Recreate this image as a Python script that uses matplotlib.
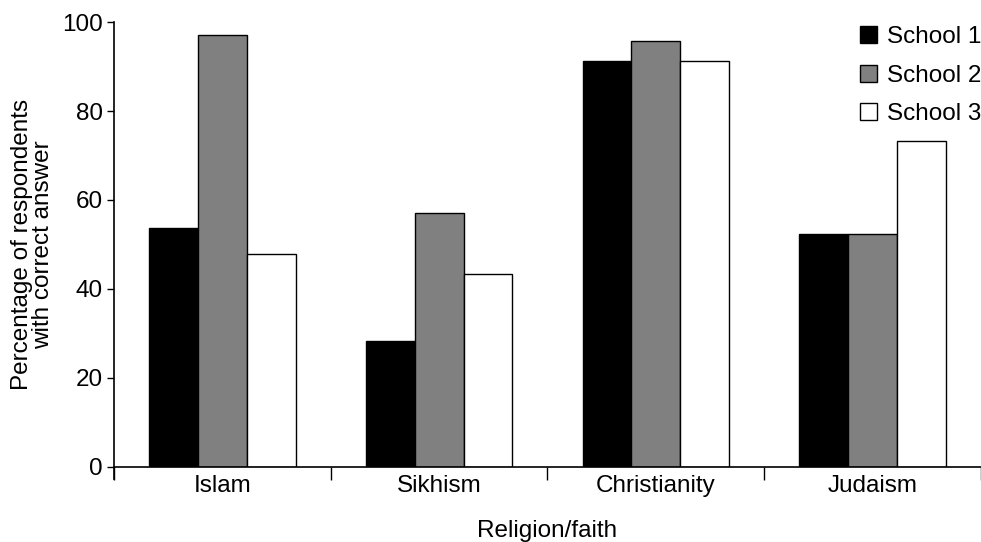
import numpy as np
import matplotlib
matplotlib.use("Agg")
import matplotlib.pyplot as plt

plt.rcParams['font.family'] = ['Liberation Sans Narrow', 'Liberation Sans', 'DejaVu Sans']

religions = ["Islam", "Sikhism", "Christianity", "Judaism"]
school1 = [53.8, 28.4, 91.2, 52.4]
school2 = [97.0, 57.0, 95.7, 52.4]
school3 = [47.8, 43.3, 91.2, 73.2]
series_names = ["School 1", "School 2", "School 3"]
colors = ["black", "#808080", "white"]

fs = 17.5

fig = plt.figure(figsize=(9.81, 5.42), dpi=100)
ax = fig.add_axes([0.1162, 0.1384, 0.8838, 0.821])

x = np.arange(len(religions))
w = 0.225
for i, (vals, name, c) in enumerate(zip([school1, school2, school3], series_names, colors)):
    ax.bar(x + (i - 1) * w, vals, width=w, color=c, edgecolor="black",
           linewidth=1.0, label=name)

ax.set_xlim(-0.5, len(religions) - 0.5)
ax.set_ylim(0, 100)
ax.set_yticks([0, 20, 40, 60, 80, 100])

# category labels centred, ticks on the boundaries
ax.set_xticks(np.arange(len(religions) + 1) - 0.5)
ax.set_xticklabels([])
ax.set_xticks(x, minor=True)
ax.set_xticklabels(religions, minor=True)
ax.tick_params(axis='x', which='major', length=9, width=1, direction='out')
ax.tick_params(axis='x', which='minor', length=0, pad=6, labelsize=fs)
ax.tick_params(axis='y', length=5, width=1, labelsize=fs, pad=3)

ax.spines['top'].set_visible(False)
ax.spines['right'].set_visible(False)
ax.spines['bottom'].set_linewidth(1.2)
ax.spines['left'].set_linewidth(1.2)
ax.spines['left'].set_bounds(-2.7, 100)

ax.set_ylabel("Percentage of respondents\nwith correct answer", fontsize=fs, linespacing=0.95, labelpad=6)
ax.set_xlabel("Religion/faith", fontsize=fs, labelpad=16)

leg = ax.legend(loc='upper right', bbox_to_anchor=(1.014, 1.018), frameon=False, fontsize=fs,
                handlelength=0.7, handleheight=0.7, handletextpad=0.4, labelspacing=0.68,
                borderaxespad=0.1)

fig.savefig("out.png", dpi=100)
